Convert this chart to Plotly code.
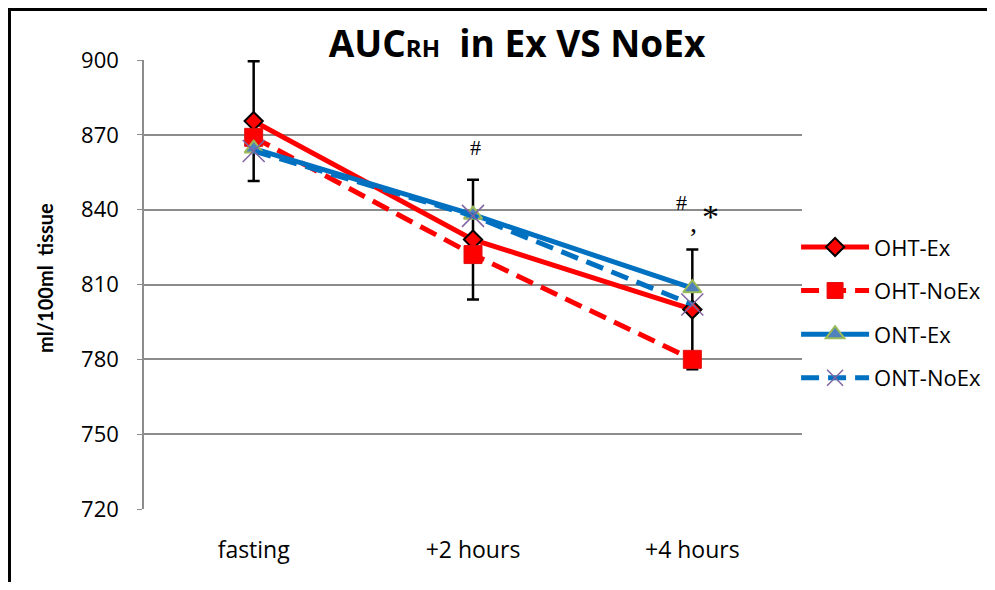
import plotly.graph_objects as go

categories = ["fasting", "+2 hours", "+4 hours"]
oht_ex = [875.5, 828, 800]
oht_noex = [869, 822, 780]
ont_ex = [864.5, 838, 808.5]
ont_noex = [863.5, 837.5, 802]
oht_ex_err = [24, 24, 24]
y_ticks = [720, 750, 780, 810, 840, 870, 900]

FONT = "Open Sans"
RED = "#FF0000"
BLUE = "#0070C0"

fig = go.Figure()
fig.add_trace(go.Scatter(
    x=categories, y=oht_ex, name="OHT-Ex", mode="lines+markers",
    line=dict(color=RED, width=5),
    marker=dict(symbol="diamond", size=14, color=RED, line=dict(color="black", width=2)),
    error_y=dict(type="data", array=oht_ex_err, color="black", thickness=2.5, width=6),
    legendgroup="a"))
fig.add_trace(go.Scatter(
    x=categories, y=oht_noex, name="OHT-NoEx", mode="lines+markers",
    line=dict(color=RED, width=5, dash="18px,9px"),
    marker=dict(symbol="square", size=18, color=RED, line=dict(color="#E01010", width=1)),
    legendgroup="b"))
fig.add_trace(go.Scatter(
    x=categories, y=ont_ex, name="ONT-Ex", mode="lines+markers",
    line=dict(color=BLUE, width=5),
    marker=dict(symbol="triangle-up", size=16, color="#4F81BD", line=dict(color="#9BBB59", width=2)),
    legendgroup="c"))
fig.add_trace(go.Scatter(
    x=categories, y=ont_noex, name="ONT-NoEx", mode="lines+markers",
    line=dict(color=BLUE, width=5, dash="18px,9px"),
    marker=dict(symbol="x-thin", size=22, color="#8064A2", line=dict(color="#8064A2", width=1.5)),
    legendgroup="d"))

# significance marks
ann_font = dict(family="Liberation Serif", size=22, color="black")
fig.add_annotation(x=categories[1], y=865, text="#", showarrow=False, xshift=2,
                   xanchor="center", yanchor="middle", font=ann_font)
fig.add_annotation(x=categories[2], y=842.7, text="#", showarrow=False, xshift=-11,
                   xanchor="center", yanchor="middle", font=ann_font)
fig.add_annotation(x=categories[2], y=835, text=",", showarrow=False, xshift=1,
                   xanchor="center", yanchor="middle",
                   font=dict(family="Liberation Serif", size=28, color="black"))
fig.add_annotation(x=categories[2], y=837.5, text="*", showarrow=False, xshift=18, yshift=-1,
                   xanchor="center", yanchor="middle",
                   font=dict(family="Liberation Serif", size=34, color="black"))

# y axis title
fig.add_annotation(xref="paper", yref="paper", x=-0.1505, y=0.5145, textangle=-90,
                   xanchor="center", yanchor="middle",
                   text="<b>ml/100ml  tissue</b>", showarrow=False,
                   font=dict(family="Lato", size=20, color="black"))

# frame lines
fig.add_shape(type="line", xref="paper", yref="paper", x0=-0.207, x1=1.3, y0=1.1125, y1=1.1125,
              line=dict(color="black", width=3))
fig.add_shape(type="line", xref="paper", yref="paper", x0=-0.2044, x1=-0.2044, y0=1.115, y1=-0.2,
              line=dict(color="black", width=3))

fig.update_layout(
    width=979, height=574,
    margin=dict(l=136, r=185, t=52, b=73, autoexpand=False),
    paper_bgcolor="white", plot_bgcolor="white",
    title=dict(text="AUC<span style='font-size:24px'>RH</span>  in Ex VS NoEx",
               x=0.52, xanchor="center", y=0.9373, yanchor="middle",
               font=dict(family=FONT, size=37, color="black", weight="bold")),
    showlegend=True,
    legend=dict(x=0.991, xanchor="left", y=0.63, yanchor="top",
                font=dict(family=FONT, size=22, color="black"),
                traceorder="grouped", tracegroupgap=12, itemwidth=68,
                bgcolor="rgba(0,0,0,0)"),
    xaxis=dict(type="category", range=[-0.5, 2.5], showgrid=False, showline=False,
               ticks="", ticklabelstandoff=25,
               tickfont=dict(family=FONT, size=23, color="black")),
    yaxis=dict(range=[720, 900], tickvals=y_ticks, ticktext=[str(v) for v in y_ticks],
               showgrid=True, gridcolor="#8C8C8C", gridwidth=1.5,
               showline=True, linecolor="#8C8C8C", linewidth=1.5,
               ticks="outside", ticklen=5, tickcolor="#8C8C8C", ticklabelstandoff=14,
               zeroline=False,
               tickfont=dict(family=FONT, size=22, color="black")),
)

fig.write_html("out.html")
